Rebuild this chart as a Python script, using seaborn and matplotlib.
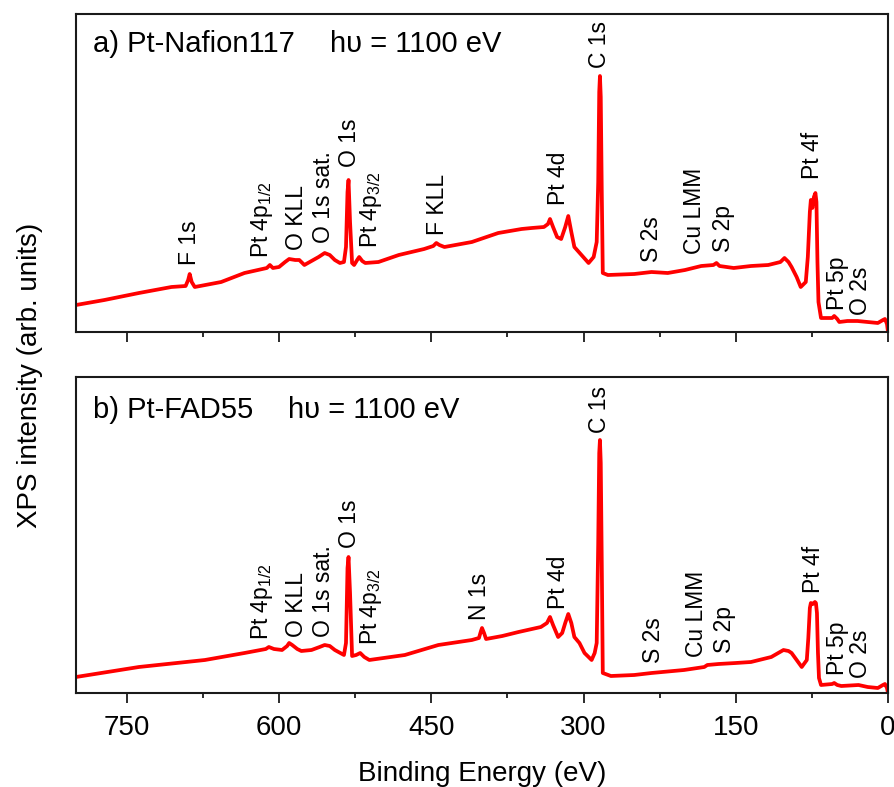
import matplotlib
matplotlib.use("Agg")
import matplotlib.pyplot as plt
import seaborn as sns
import pandas as pd
from matplotlib.ticker import MultipleLocator

# ---------------- data ----------------
energy_a = [800, 772, 738, 706, 692, 689.5, 688, 686, 683, 657, 634, 612, 609, 606, 600,
            594, 590, 584, 580, 575, 568, 561, 555, 550, 545, 540, 536, 534, 532.5, 531.5,
            530, 528, 526, 523, 521, 518, 515, 502, 482, 457, 448, 445, 442, 437, 410, 384,
            361, 351, 339, 335, 333, 330, 326, 322, 318, 315, 312, 309, 302, 295, 290, 287,
            285.5, 284.5, 283.8, 283, 282, 281, 276, 250, 233, 217, 200, 184, 172, 169, 166,
            152, 135, 118, 106, 102, 98, 95, 90, 86, 81, 79, 77, 76, 74.5, 73, 71.5, 70.5,
            69.5, 68.5, 66, 63, 55, 53, 50, 48, 40, 30, 20, 10, 5, 3, 1, 0]
intensity_a = [27, 32, 39, 45, 46, 52, 58, 50, 45, 50, 59, 64, 67, 64, 65,
               70, 73, 72, 72, 67, 71, 75, 79, 77, 72, 69, 70, 85, 140, 152,
               110, 69, 67, 72, 75, 71, 69, 70, 77, 83, 86, 89, 87, 85, 90, 99,
               103, 104, 105, 108, 113, 105, 95, 93, 105, 116, 100, 85, 77, 69, 75, 90,
               150, 240, 256, 235, 140, 59, 57, 58, 60, 59, 62, 66, 67, 69, 66,
               64, 66, 67, 70, 74, 70, 65, 55, 45, 50, 75, 120, 132, 124, 135, 139, 130,
               70, 30, 14, 14, 14, 16, 13, 10, 11, 11, 10, 9, 12, 13, 8, 0]

energy_b = [800, 738, 673, 634, 613, 610, 605, 597, 592, 590, 587, 582, 578, 568, 560, 555,
            550, 545, 536, 534, 532.5, 531.5, 530, 528, 524, 520, 516, 511, 476, 443, 410,
            403, 401, 400, 398, 396, 380, 364, 342, 336, 333, 330, 325, 321, 318, 315, 312,
            309, 304, 299, 292, 289, 287, 285.5, 284.5, 283.8, 283, 282, 281, 273, 250, 233,
            201, 181, 178, 167, 150, 135, 115, 103, 98, 95, 90, 85, 80, 78.5, 77, 76, 74,
            72, 71, 70, 69, 68, 66, 55, 53, 50, 46, 29, 20, 10, 5, 3, 1, 0]
intensity_b = [16, 26, 33, 40, 44, 46, 44, 43, 47, 50, 48, 44, 42, 43, 46, 48,
               47, 43, 38, 50, 125, 136, 100, 37, 38, 40, 36, 33, 38, 48, 53,
               55, 62, 65, 60, 54, 57, 61, 66, 70, 76, 68, 56, 60, 70, 79, 70,
               56, 50, 40, 33, 40, 50, 150, 240, 253, 230, 130, 20, 17, 18, 20,
               23, 26, 28, 29, 30, 31, 36, 43, 42, 40, 33, 26, 33, 55, 85, 90, 89,
               91, 90, 80, 40, 15, 8, 9, 10, 8, 7, 8, 6, 5, 8, 9, 5, 0]

labels_a = ["F 1s", "Pt 4p$_{1/2}$", "O KLL", "O 1s sat.", "O 1s", "Pt 4p$_{3/2}$", "F KLL",
            "Pt 4d", "C 1s", "S 2s", "Cu LMM", "S 2p", "Pt 4f", "Pt 5p", "O 2s"]
label_x_a = [688, 617, 583, 556, 531, 509, 444, 325, 284, 233, 191, 162, 74, 50, 27]
label_y_a = [67, 74, 82, 89, 165, 84, 97, 127, 264, 70, 78, 80, 153, 22, 17]

labels_b = ["Pt 4p$_{1/2}$", "O KLL", "O 1s sat.", "O 1s", "Pt 4p$_{3/2}$", "N 1s",
            "Pt 4d", "C 1s", "S 2s", "Cu LMM", "S 2p", "Pt 4f", "Pt 5p", "O 2s"]
label_x_b = [617, 583, 556, 531, 509, 402, 325, 284, 231, 189, 161, 73, 50, 27]
label_y_b = [53, 56, 56, 145, 48, 73, 84, 260, 30, 36, 40, 100, 18, 15]

sample_a = "a) Pt-Nafion117"
sample_b = "b) Pt-FAD55"
photon = "h\u03c5 = 1100 eV"
x_ticks = [750, 600, 450, 300, 150, 0]

# ---------------- style ----------------
sns.set_style("ticks")
plt.rcParams['font.family'] = ['Liberation Sans', 'DejaVu Sans']
plt.rcParams['mathtext.default'] = 'regular'
plt.rcParams['axes.linewidth'] = 1.5
plt.rcParams['axes.edgecolor'] = '#1a1a1a'
plt.rcParams['text.color'] = 'black'
plt.rcParams['axes.labelcolor'] = 'black'
plt.rcParams['xtick.color'] = '#1a1a1a'
plt.rcParams['xtick.labelcolor'] = 'black'

fig = plt.figure(figsize=(8.94, 7.87), dpi=100)
ax_a = fig.add_axes([76/894, 1-332/787, 812/894, 318/787])
ax_b = fig.add_axes([76/894, 1-693/787, 812/894, 316/787])

df_a = pd.DataFrame({"E": energy_a, "I": intensity_a})
df_b = pd.DataFrame({"E": energy_b, "I": intensity_b})

for ax, df, ylim in [(ax_a, df_a, 318), (ax_b, df_b, 316)]:
    sns.lineplot(data=df, x="E", y="I", ax=ax, color="#ff0000", linewidth=2.7,
                 sort=False, estimator=None)
    ax.set_xlim(800, 0)
    ax.set_ylim(0, ylim)
    ax.set_yticks([])
    ax.set_ylabel("")
    ax.set_xlabel("")
    ax.xaxis.set_major_locator(MultipleLocator(150))
    ax.xaxis.set_minor_locator(MultipleLocator(75))
    ax.tick_params(axis='x', which='major', direction='out', length=7, width=1.3,
                   labelsize=20, pad=9)
    ax.tick_params(axis='x', which='minor', direction='out', length=3.5, width=1.3)
    for sp in ax.spines.values():
        sp.set_visible(True)
        sp.set_linewidth(1.5)

ax_a.tick_params(axis='x', which='both', labelbottom=False)
ax_b.set_xticks(x_ticks)
ax_b.set_xticklabels([str(t) for t in x_ticks])
ax_b.set_xlabel("Binding Energy (eV)", fontsize=20, labelpad=14)

for ax, labs, lx, ly in [(ax_a, labels_a, label_x_a, label_y_a),
                         (ax_b, labels_b, label_x_b, label_y_b)]:
    for t, x, y in zip(labs, lx, ly):
        ax.text(x, y, t, rotation=90, ha='center', va='bottom', fontsize=16.5)

ax_a.text(0.021, 0.88, sample_a, transform=ax_a.transAxes, fontsize=21, va='baseline')
ax_a.text(0.313, 0.88, photon, transform=ax_a.transAxes, fontsize=21, va='baseline')
ax_b.text(0.021, 0.870, sample_b, transform=ax_b.transAxes, fontsize=21, va='baseline')
ax_b.text(0.261, 0.870, photon, transform=ax_b.transAxes, fontsize=21, va='baseline')

fig.text(0.034, 0.523, "XPS intensity (arb. units)", rotation=90, ha='center',
         va='center', fontsize=20)

fig.savefig("out.png", dpi=100)
